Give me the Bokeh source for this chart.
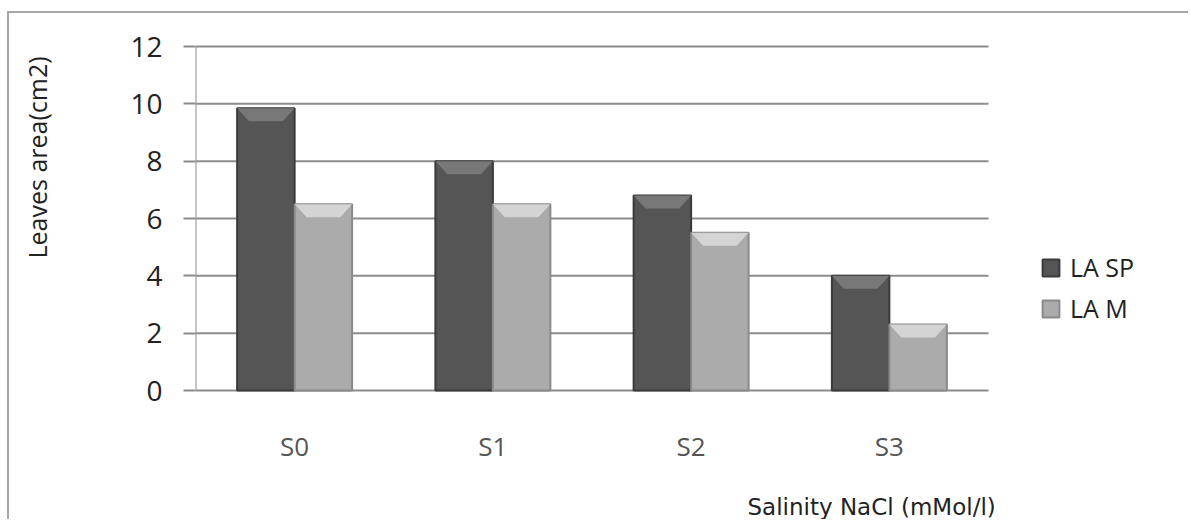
from bokeh.plotting import figure
from bokeh.models import Range1d, FixedTicker, Legend, LegendItem, Title
from bokeh.embed import file_html
from bokeh.resources import INLINE

categories = ["S0", "S1", "S2", "S3"]
la_sp = [9.85, 8.0, 6.8, 4.0]
la_m = [6.5, 6.5, 5.5, 2.3]
series_names = ["LA SP", "LA M"]
y_ticks = [0, 2, 4, 6, 8, 10, 12]
x_title = "Salinity NaCl (mMol/l)"
y_title = "Leaves area(cm2)"

# layout (pixels)
W, H = 1181, 508
LEFT, TOP, BOTTOM = 186, 30, 128
PLOT_PX_W, PLOT_PX_H, PAD = 793, 344, 3
n = len(categories)
frame_w = W - LEFT
ppu = PLOT_PX_H / (y_ticks[-1] - y_ticks[0])
x_end = n * frame_w / PLOT_PX_W

p = figure(width=W, height=H, output_backend="svg", toolbar_location=None,
           x_range=Range1d(0, x_end),
           y_range=Range1d(y_ticks[0] - PAD / ppu, y_ticks[-1] + PAD / ppu),
           min_border_left=LEFT, min_border_right=0, min_border_top=TOP,
           min_border_bottom=BOTTOM)
p.styles = {"border-top": "2px solid #a6a6a6", "border-left": "2px solid #a6a6a6",
            "margin-top": "11px", "margin-left": "7px"}
p.outline_line_color = None
p.background_fill_color = "white"
p.border_fill_color = "white"
p.xgrid.grid_line_color = None
p.ygrid.grid_line_color = None

GRID = "#8c8c8c"
p.segment(x0=[0] * len(y_ticks), x1=[n] * len(y_ticks), y0=y_ticks, y1=y_ticks,
          line_color=GRID, line_width=2)
p.segment(x0=[0], x1=[0], y0=[y_ticks[0]], y1=[y_ticks[-1]], line_color=GRID, line_width=2)

# y axis
p.yaxis.ticker = FixedTicker(ticks=y_ticks)
p.yaxis.major_label_text_font = "Open Sans"
p.yaxis.major_label_text_font_size = "28px"
p.yaxis.major_label_text_color = "#222222"
p.yaxis.axis_line_color = None
p.yaxis.major_tick_out = 12
p.yaxis.major_tick_in = 0
p.yaxis.major_tick_line_color = GRID
p.yaxis.major_tick_line_width = 2
p.yaxis.minor_tick_line_color = None
p.yaxis.major_label_standoff = 21

# x axis
centers = [i + 0.5 for i in range(n)]
p.xaxis.ticker = FixedTicker(ticks=centers)
p.xaxis.major_label_overrides = {c: cat for c, cat in zip(centers, categories)}
p.xaxis.axis_line_color = None
p.xaxis.major_tick_line_color = None
p.xaxis.minor_tick_line_color = None
p.xaxis.major_label_standoff = 28
p.xaxis.major_label_text_font = "Open Sans"
p.xaxis.major_label_text_font_size = "26px"
p.xaxis.major_label_text_color = "#555555"

bw = 0.29
series = [
    (la_sp, -bw / 2, "#555555", "#3a3a3a", "#7c7c7c"),
    (la_m, bw / 2, "#ababab", "#8a8a8a", "#d8d8d8"),
]
dx = 0.06
dy = 13 / ppu
renderers = []
for vals, off, fill, line, bevel in series:
    xs = [c + off for c in centers]
    r = p.vbar(x=xs, top=vals, width=bw, bottom=0, fill_color=fill,
               line_color=line, line_width=2)
    renderers.append(r)
    pxs = [[x - bw / 2, x + bw / 2, x + bw / 2 - dx, x - bw / 2 + dx] for x in xs]
    pys = [[v, v, v - dy, v - dy] for v in vals]
    p.patches(xs=pxs, ys=pys, fill_color=bevel, line_color=None, fill_alpha=0.9)

legend = Legend(items=[LegendItem(label=nm, renderers=[r]) for nm, r in zip(series_names, renderers)],
                location=(845, 68), glyph_width=21, glyph_height=21,
                label_text_font="Open Sans", label_text_font_size="25px",
                label_text_color="#222222", label_standoff=9, spacing=7,
                padding=0, margin=0, border_line_color=None, background_fill_alpha=0)
p.add_layout(legend, "center")

# spacers push the axis titles away from the tick labels
p.add_layout(Title(text=" ", standoff=71, text_font_size="1px"), "left")
p.add_layout(Title(text=y_title, align="left", offset=135, standoff=0,
                   text_font="Open Sans", text_font_size="25px",
                   text_font_style="normal", text_color="#222222"), "left")
p.add_layout(Title(text=" ", standoff=20, text_font_size="1px"), "below")
p.add_layout(Title(text=x_title, align="left", offset=552, standoff=4,
                   text_font="DejaVu Sans", text_font_size="23px",
                   text_font_style="normal", text_color="#222222"), "below")

open("out.html", "w").write(file_html(p, INLINE))
